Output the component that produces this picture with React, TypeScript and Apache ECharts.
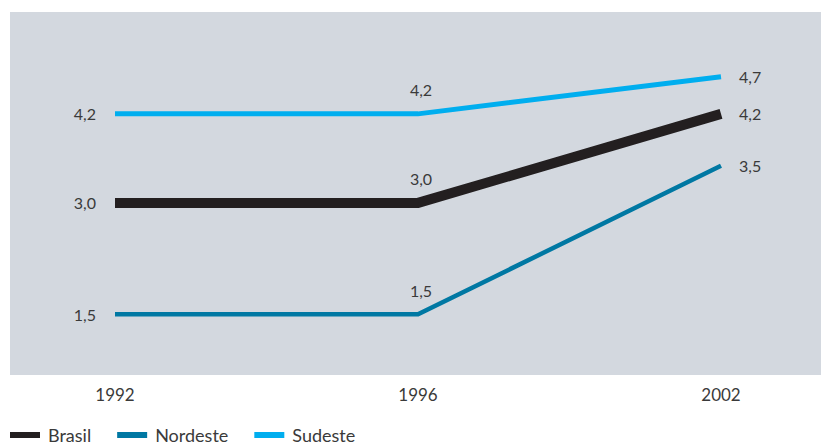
import React, { useEffect, useRef } from "react";
import * as echarts from "echarts";

const years = ["1992", "1996", "2002"];
const brasil = [3.0, 3.0, 4.2];
const nordeste = [1.5, 1.5, 3.5];
const sudeste = [4.2, 4.2, 4.7];

const FONT = "Lato";
const TEXT = "#3a3a3a";

function fmt(v: number) {
  return v.toFixed(1).replace(".", ",");
}

function pointLabels(values: number[]) {
  return values.map((v, i) => {
    const base: any = {
      show: true,
      fontFamily: FONT,
      fontSize: 16,
      color: TEXT,
      formatter: () => fmt(v),
    };
    if (i === 0) {
      base.position = "left";
      base.distance = 19;
    } else if (i === values.length - 1) {
      base.position = "right";
      base.distance = 18;
    } else {
      base.position = "top";
      base.distance = 16;
      base.offset = [3, 0];
    }
    return { value: v, label: base };
  });
}

export default function App() {
  const ref = useRef<HTMLDivElement>(null);
  useEffect(() => {
    if (!ref.current) return;
    const chart = echarts.init(ref.current, undefined, { renderer: "svg" });
    const mk = (name: string, data: number[], color: string, width: number, z: number) => ({
      name,
      type: "line",
      data: pointLabels(data),
      symbol: "circle",
      symbolSize: 0.1,
      showSymbol: true,
      itemStyle: { color },
      lineStyle: { color, width, cap: "butt", join: "miter" },
      z,
      emphasis: { disabled: true },
    });
    chart.setOption({
      animation: false,
      color: ["#231f20", "#0078a3", "#00aeef"],
      graphic: [
        {
          type: "rect",
          z: -10,
          silent: true,
          shape: { x: 10, y: 12, width: 811, height: 363 },
          style: { fill: "#d3d8df" },
        },
      ],
      grid: { left: 115, right: 100, top: 54.5, height: 296.8 },
      xAxis: {
        type: "category",
        data: years,
        boundaryGap: false,
        axisLine: { show: false },
        axisTick: { show: false },
        splitLine: { show: false },
        axisLabel: { margin: 35, fontFamily: FONT, fontSize: 17, color: TEXT },
      },
      yAxis: {
        type: "value",
        min: 1,
        max: 5,
        show: false,
        splitLine: { show: false },
      },
      legend: {
        left: 10,
        top: 425,
        padding: 0,
        icon: "rect",
        itemWidth: 30,
        itemHeight: 6,
        itemGap: 26,
        textStyle: { fontFamily: FONT, fontSize: 18, lineHeight: 20, color: TEXT, padding: [0, 0, 0, 3] },
        data: ["Brasil", "Nordeste", "Sudeste"],
      },
      series: [
        mk("Brasil", brasil, "#231f20", 10, 3),
        mk("Nordeste", nordeste, "#0078a3", 4.5, 2),
        mk("Sudeste", sudeste, "#00aeef", 5, 2),
      ],
    });
    return () => chart.dispose();
  }, []);
  return (
    <div
      ref={ref}
      style={{ position: "fixed", left: 0, top: 0, width: 821, height: 447, background: "#fff" }}
    />
  );
}
